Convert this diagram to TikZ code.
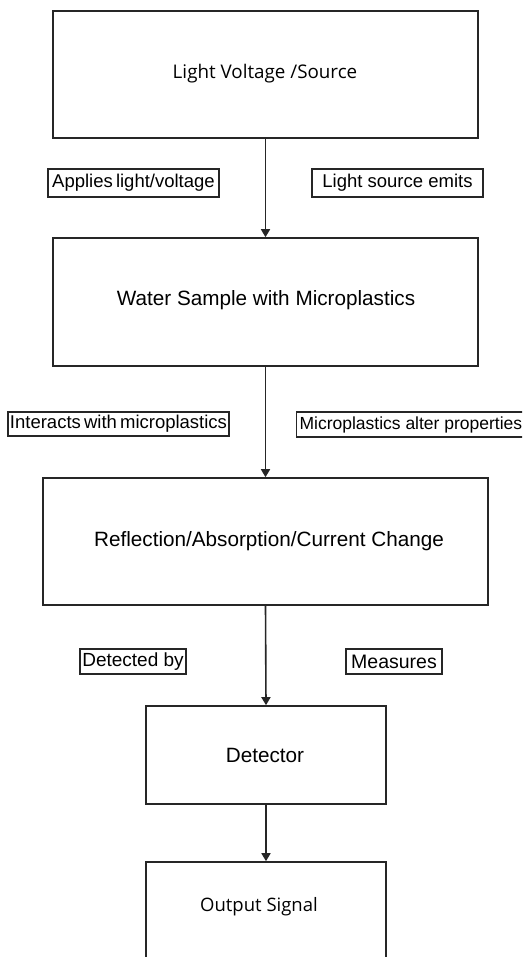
\documentclass[tikz,border=0pt]{standalone}
\usepackage{fontspec}
\setmainfont{Liberation Sans}
\newfontfamily\osans{Open Sans}
\usetikzlibrary{arrows.meta}
\newcommand{\tightsp}{\spaceskip=0.17em plus 0.05em\relax}
\begin{document}
\begin{tikzpicture}[x=1pt,y=-1pt,
  box/.style={draw=black!85,line width=1.6pt,rectangle,inner sep=0pt},
  btxt/.style={font=\fontsize{20.7}{23}\selectfont},
  lbl/.style={draw=black!85,line width=1.1pt,rectangle,inner sep=2pt,font=\fontsize{18.5}{20}\selectfont},
  arr/.style={draw=black!85,line width=1.6pt,-{Triangle[length=8pt,width=9pt]}}]
\useasboundingbox (0,0) rectangle (522,957);
\begin{scope}
\clip (0,0) rectangle (522,957);
\node[box,minimum width=425pt,minimum height=127pt] (b1) at (265.5,74.5) {};
\node[font=\osans\fontsize{18.8}{21}\selectfont] (t1) at (265,74) {Light Voltage /Source};
\node[box,minimum width=425pt,minimum height=128pt] (b2) at (265.5,302) {};
\node[btxt] (t2) at (266,300) {Water Sample with Microplastics};
\node[box,minimum width=445pt,minimum height=127pt] (b3) at (265.5,541.5) {};
\node[btxt] (t3) at (269,541) {Reflection/Absorption/Current Change};
\node[box,minimum width=240pt,minimum height=98pt] (b4) at (266,755) {};
\node[btxt] (t4) at (265,755) {Detector};
\node[box,minimum width=240pt,minimum height=120pt] (b5) at (266,922) {};
\node[font=\osans\fontsize{18.5}{21}\selectfont] (t5) at (259,907) {Output Signal};
\node[lbl,minimum height=25pt,anchor=west,inner xsep=3pt,font=\fontsize{17.5}{20}\selectfont] (l4) at (296,424.5) {Microplastics alter properties};
\end{scope}
\node[lbl,minimum width=171pt,minimum height=28pt] (l1) at (133.5,183) {\tightsp Applies light/voltage};
\node[lbl,minimum width=171pt,minimum height=28pt] (l2) at (397.5,183) {Light source emits};
\node[lbl,minimum width=217pt,minimum height=24pt] (l3) at (118.5,424) {\tightsp Interacts with microplastics};
\node[lbl,minimum width=106pt,minimum height=25pt,font=\fontsize{19}{20}\selectfont] (l5) at (133,661.5) {Detected by};
\node[lbl,minimum width=96pt,minimum height=25pt,font=\fontsize{19.5}{20}\selectfont] (l6) at (394,661.5) {Measures};
\draw[arr] (b1.south) -- (b2.north);
\draw[arr] (b2.south) -- (b3.north);
\draw[arr] (b3.south) -- (b4.north);
\draw[arr] (b4.south) -- (b5.north);
\end{tikzpicture}
\end{document}
